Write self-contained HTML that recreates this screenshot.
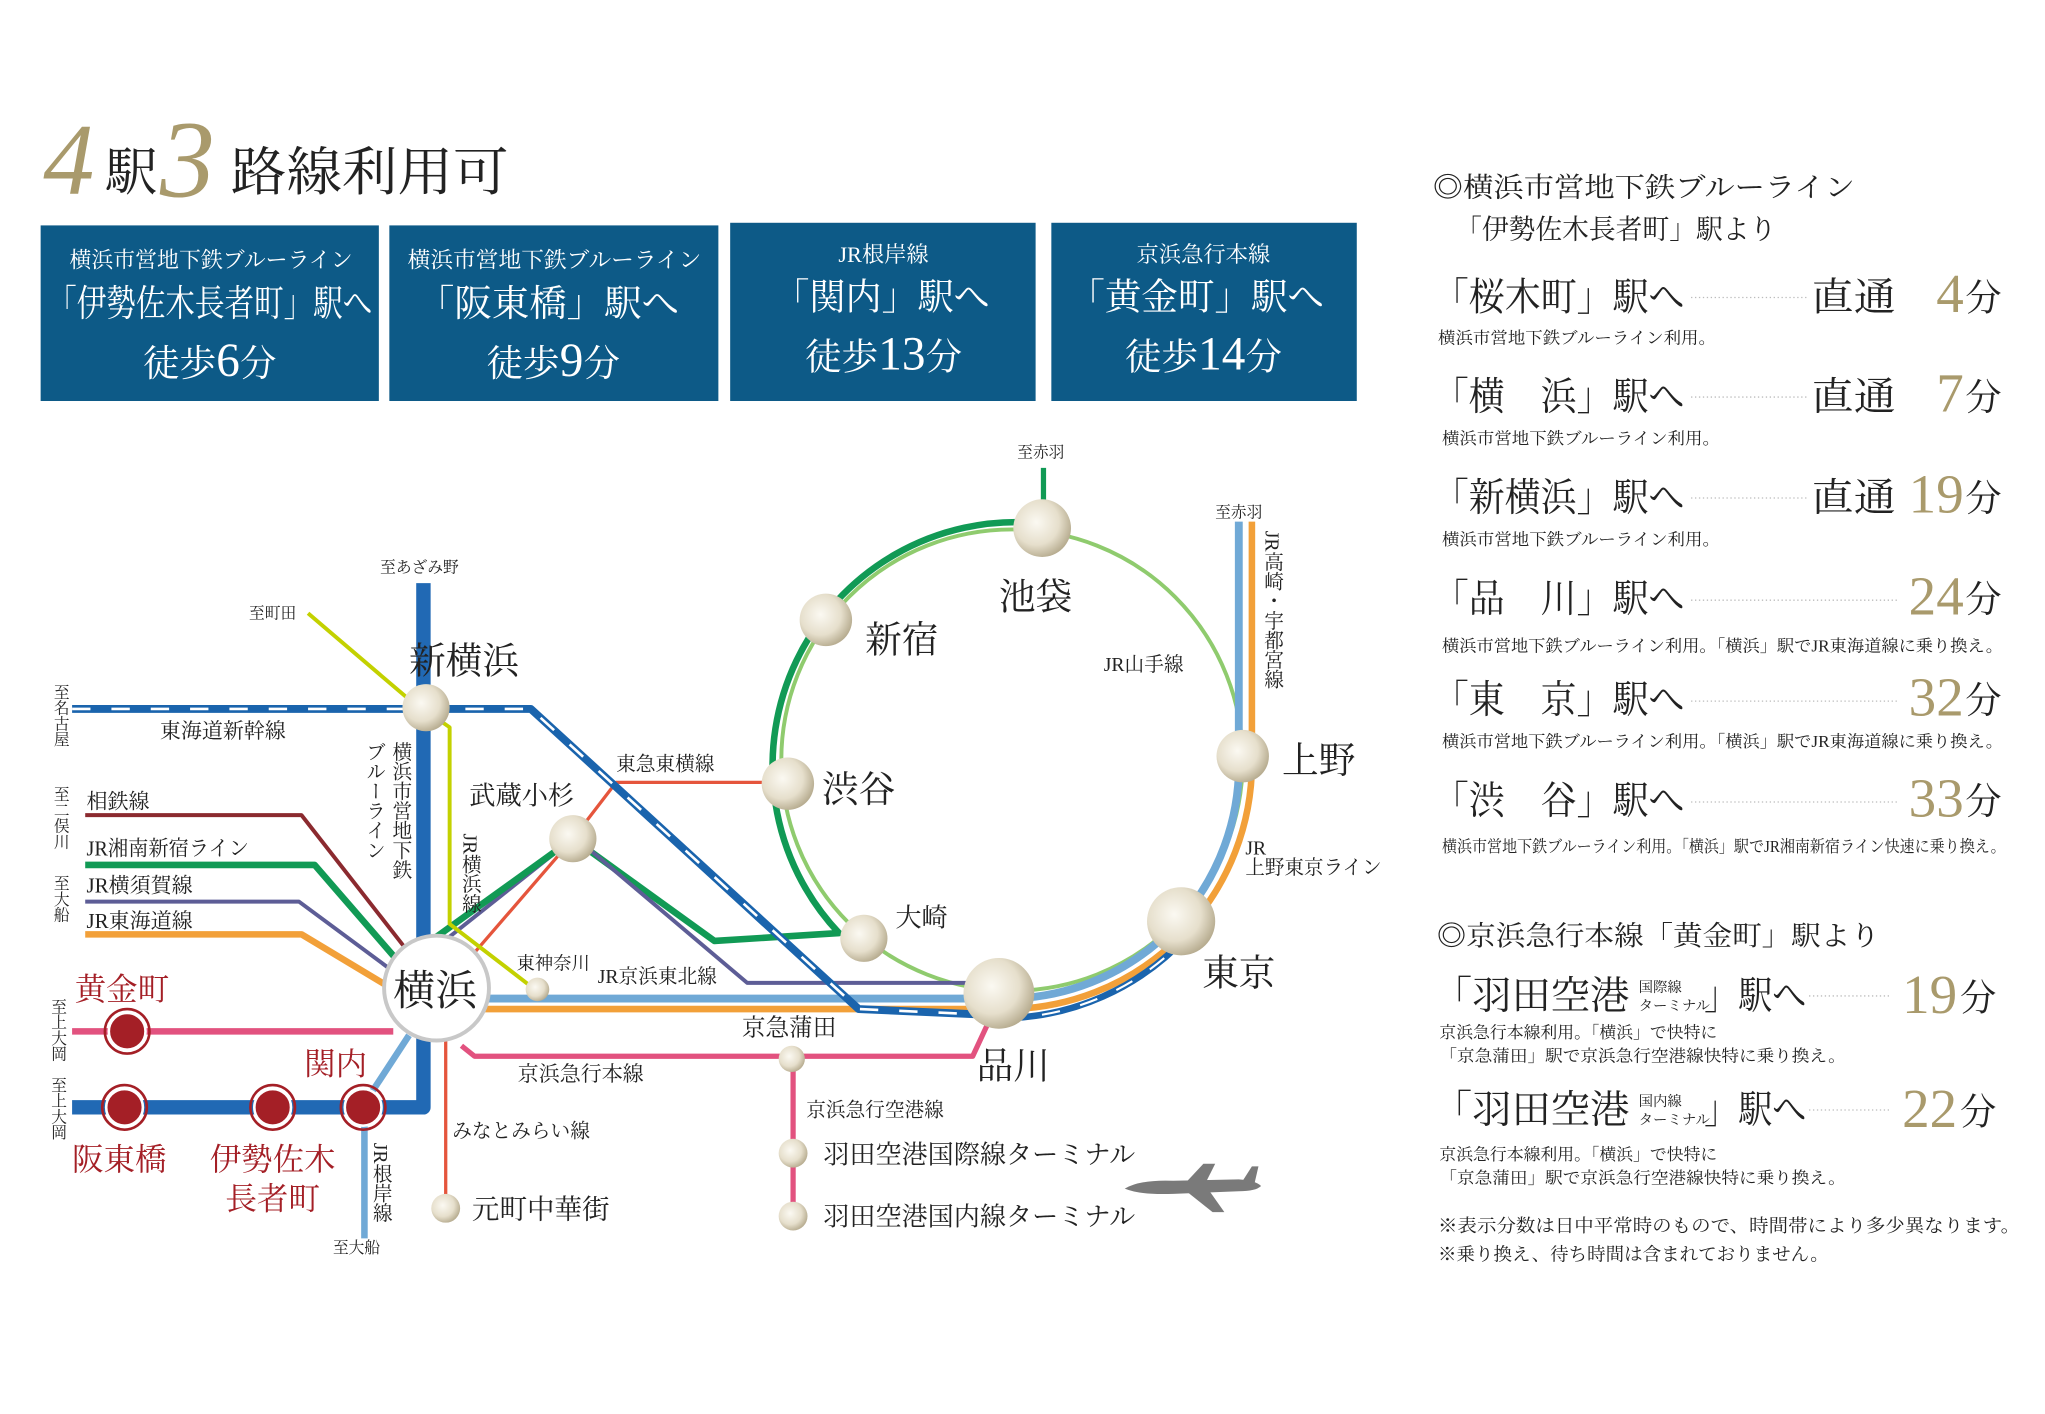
<!DOCTYPE html>
<html><head><meta charset="utf-8">
<style>
html,body{margin:0;padding:0;background:#fff;}
svg{display:block;}
text{font-family:"Liberation Serif","Noto Serif CJK JP","Noto Serif CJK SC",serif;}
</style></head>
<body>
<svg width="2045" height="1414" viewBox="0 0 1560 1079" preserveAspectRatio="none" xmlns="http://www.w3.org/2000/svg">
<defs>
<radialGradient id="sph" cx="0.4" cy="0.4" r="0.65">
<stop offset="0" stop-color="#fbf9f2"/><stop offset="0.6" stop-color="#e6dfcc"/><stop offset="1" stop-color="#b3a88b"/>
</radialGradient>
</defs>
<rect width="1560" height="1079" fill="#fff"/>

<!-- Title -->
<text x="33" y="148" font-size="78" font-style="italic" fill="#a99a6c">4</text>
<text x="80" y="145" font-size="40" fill="#222">駅</text>
<text x="122" y="150" font-size="84" font-style="italic" fill="#a99a6c">3</text>
<text x="176" y="145" font-size="40" fill="#222" textLength="212" lengthAdjust="spacingAndGlyphs">路線利用可</text>

<!-- Boxes -->
<g fill="#0d5a87">
<rect x="31" y="172" width="258" height="134"/>
<rect x="297" y="172" width="251" height="134"/>
<rect x="557" y="170" width="233" height="136"/>
<rect x="802" y="170" width="233" height="136"/>
</g>
<g fill="#fff">
<text x="53" y="204" font-size="17" textLength="216" lengthAdjust="spacingAndGlyphs">横浜市営地下鉄ブルーライン</text>
<text x="36" y="241" font-size="28" textLength="248" lengthAdjust="spacingAndGlyphs">「伊勢佐木長者町」駅へ</text>
<text x="311" y="204" font-size="17" textLength="224" lengthAdjust="spacingAndGlyphs">横浜市営地下鉄ブルーライン</text>
<text x="318" y="241" font-size="28" textLength="200" lengthAdjust="spacingAndGlyphs">「阪東橋」駅へ</text>
<text x="590" y="236" font-size="28" textLength="165" lengthAdjust="spacingAndGlyphs">「関内」駅へ</text>
<text x="815" y="236" font-size="28" textLength="195" lengthAdjust="spacingAndGlyphs">「黄金町」駅へ</text>
</g>
<g fill="#fff" text-anchor="middle">
<text x="160" y="287" font-size="28">徒歩<tspan font-size="36">6</tspan>分</text>
<text x="422" y="287" font-size="28">徒歩<tspan font-size="36">9</tspan>分</text>
<text x="674" y="200" font-size="17">JR根岸線</text>
<text x="674" y="282" font-size="28">徒歩<tspan font-size="36">13</tspan>分</text>
<text x="918" y="200" font-size="17">京浜急行本線</text>
<text x="918" y="282" font-size="28">徒歩<tspan font-size="36">14</tspan>分</text>
</g>

<!-- ===== MAP ===== -->
<g fill="none" stroke-linejoin="round">
<line x1="796" y1="357" x2="796" y2="390" stroke="#119a55" stroke-width="4"/>
<path d="M790,399 A186,186 0 0 0 640,712 L545,718 L437,640" stroke="#119a55" stroke-width="5"/>
<circle cx="772" cy="580" r="176" stroke="#8fcb6e" stroke-width="3"/>
<path d="M945,398 L945,578 A178,178 0 0 1 765,762 L360,762" stroke="#70a9d6" stroke-width="6"/>
<path d="M955,398 L955,580 A188,188 0 0 1 765,770 L360,770" stroke="#f2a039" stroke-width="5"/>
<path d="M65,688 L228,688 L305,745 M440,640 L570,750 L760,750" stroke="#5d5d96" stroke-width="3"/>
<path d="M305,745 L437,640" stroke="#5d5d96" stroke-width="3"/>
<path d="M65,622 L230,622 L308,722" stroke="#8b2a2f" stroke-width="3"/>
<path d="M65,660 L240,660 L305,735 L437,640" stroke="#119a55" stroke-width="5"/>
<path d="M65,713 L230,713 L300,755" stroke="#f2a039" stroke-width="5"/>
<path d="M355,735 L437,640 L470,597 L585,597" stroke="#e5553c" stroke-width="2.5"/>
<path d="M235,468 L310,532 L343,555 L343,705 L408,755" stroke="#c3d100" stroke-width="3"/>
<path d="M55,541 L405,541 L655,770 L745,774" stroke="#1a64ad" stroke-width="6"/>
<path d="M55,541 L405,541 L655,770 L745,774" stroke="#fff" stroke-width="2" stroke-dasharray="14 16"/>
<path d="M765,777 A194,194 0 0 0 905,715" stroke="#1a64ad" stroke-width="5"/>
<path d="M765,777 A194,194 0 0 0 905,715" stroke="#fff" stroke-width="1.6" stroke-dasharray="14 16"/>
<path d="M323,445 L323,845 L55,845" stroke="#2169b4" stroke-width="11"/>
<path d="M312,790 L278,842 L278,945" stroke="#70a9d6" stroke-width="5"/>
<line x1="340" y1="790" x2="340" y2="915" stroke="#e5553c" stroke-width="2.5"/>
<path d="M55,787 L300,787" stroke="#e2527f" stroke-width="5"/>
<path d="M352,798 L362,806 L742,806 L755,778" stroke="#e2527f" stroke-width="4"/>
<path d="M605,806 L605,930" stroke="#e2527f" stroke-width="4"/>
</g>

<g fill="url(#sph)">
<circle cx="795" cy="403" r="22"/>
<circle cx="630" cy="473" r="20"/>
<circle cx="601" cy="598" r="20"/>
<circle cx="948" cy="577" r="20"/>
<circle cx="901" cy="703" r="26"/>
<circle cx="762" cy="758" r="27"/>
<circle cx="659" cy="716" r="18"/>
<circle cx="325" cy="540" r="18"/>
<circle cx="437" cy="640" r="18"/>
<circle cx="410" cy="755" r="9"/>
<circle cx="604" cy="808" r="10"/>
<circle cx="605" cy="880" r="11"/>
<circle cx="605" cy="928" r="11"/>
<circle cx="340" cy="922" r="11"/>
</g>
<circle cx="333" cy="754" r="40" fill="#fff" stroke="#c8c8c8" stroke-width="3"/>
<g fill="#a41f26" stroke="#fff" stroke-width="2">
<circle cx="97" cy="787" r="14"/><circle cx="95" cy="845" r="14"/>
<circle cx="208" cy="845" r="14"/><circle cx="277" cy="845" r="14"/>
</g>
<g fill="none" stroke="#a41f26" stroke-width="2">
<circle cx="97" cy="787" r="17"/><circle cx="95" cy="845" r="17"/>
<circle cx="208" cy="845" r="17"/><circle cx="277" cy="845" r="17"/>
</g>

<!-- airplane -->
<g fill="#7a7a7a">
<path d="M858,907 Q870,900 895,901 L945,900 Q958,901 962,905 Q958,909 945,909 L895,911 Q870,912 858,907 Z"/>
<path d="M905,902 L918,888 L927,888 L920,902 Z"/>
<path d="M905,909 L925,925 L934,925 L922,908 Z"/>
<path d="M948,901 L955,890 L960,890 L957,903 Z"/>
</g>

<g fill="#222">
<text x="312" y="514" font-size="28">新横浜</text>
<text x="300" y="767" font-size="32">横浜</text>
<text x="762" y="465" font-size="28">池袋</text>
<text x="660" y="498" font-size="28">新宿</text>
<text x="627" y="612" font-size="28">渋谷</text>
<text x="978" y="590" font-size="28">上野</text>
<text x="917" y="752" font-size="28">東京</text>
<text x="745" y="823" font-size="28">品川</text>
<text x="683" y="707" font-size="20">大崎</text>
<text x="358" y="614" font-size="20">武蔵小杉</text>
<text x="566" y="790" font-size="18">京急蒲田</text>
<text x="628" y="888" font-size="20" textLength="238" lengthAdjust="spacingAndGlyphs">羽田空港国際線ターミナル</text>
<text x="628" y="935" font-size="20" textLength="238" lengthAdjust="spacingAndGlyphs">羽田空港国内線ターミナル</text>
<text x="360" y="930" font-size="21">元町中華街</text>
<text x="394" y="740" font-size="14">東神奈川</text>
<text x="456" y="750" font-size="15">JR京浜東北線</text>
<text x="470" y="588" font-size="15">東急東横線</text>
<text x="395" y="825" font-size="16">京浜急行本線</text>
<text x="615" y="852" font-size="15">京浜急行空港線</text>
<text x="345" y="868" font-size="15">みなとみらい線</text>
<text x="842" y="512" font-size="15">JR山手線</text>
<text x="122" y="563" font-size="16">東海道新幹線</text>
<text x="66" y="617" font-size="16">相鉄線</text>
<text x="66" y="653" font-size="16" textLength="124" lengthAdjust="spacingAndGlyphs">JR湘南新宿ライン</text>
<text x="66" y="681" font-size="16">JR横須賀線</text>
<text x="66" y="708" font-size="16">JR東海道線</text>
<text x="950" y="652" font-size="15">JR</text>
<text x="950" y="667" font-size="15" textLength="104" lengthAdjust="spacingAndGlyphs">上野東京ライン</text>
<text x="290" y="437" font-size="12">至あざみ野</text>
<text x="190" y="472" font-size="12">至町田</text>
<text x="776" y="349" font-size="12">至赤羽</text>
<text x="927" y="395" font-size="12">至赤羽</text>
<text x="254" y="956" font-size="12">至大船</text>
</g>
<g fill="#222" font-size="12">
<text x="46" y="522" writing-mode="tb">至名古屋</text>
<text x="46" y="600" writing-mode="tb">至二俣川</text>
<text x="46" y="668" writing-mode="tb">至大船</text>
<text x="44" y="762" writing-mode="tb">至上大岡</text>
<text x="44" y="822" writing-mode="tb">至上大岡</text>
</g>
<g fill="#222" font-size="15">
<text x="305" y="566" writing-mode="tb">横浜市営地下鉄</text>
<text x="285" y="566" writing-mode="tb">ブルーライン</text>
<text x="358" y="636" writing-mode="tb">JR横浜線</text>
<text x="970" y="405" writing-mode="tb">JR高崎・宇都宮線</text>
<text x="290" y="872" writing-mode="tb">JR根岸線</text>
</g>
<g fill="#a41f26">
<text x="57" y="763" font-size="24">黄金町</text>
<text x="232" y="820" font-size="24">関内</text>
<text x="55" y="893" font-size="24">阪東橋</text>
<text x="160" y="893" font-size="24">伊勢佐木</text>
<text x="172" y="923" font-size="24">長者町</text>
</g>

<!-- ===== RIGHT PANEL ===== -->
<g fill="#222">
<text x="1093" y="150" font-size="21" textLength="322" lengthAdjust="spacingAndGlyphs">◎横浜市営地下鉄ブルーライン</text>
<text x="1110" y="182" font-size="21" textLength="245" lengthAdjust="spacingAndGlyphs">「伊勢佐木長者町」駅より</text>
</g>
<g stroke="#bbb" stroke-width="1" stroke-dasharray="1 2">
<line x1="1290" y1="227" x2="1378" y2="227"/>
<line x1="1290" y1="303" x2="1378" y2="303"/>
<line x1="1290" y1="380" x2="1378" y2="380"/>
<line x1="1290" y1="458" x2="1448" y2="458"/>
<line x1="1290" y1="535" x2="1448" y2="535"/>
<line x1="1290" y1="612" x2="1448" y2="612"/>
<line x1="1380" y1="760" x2="1443" y2="760"/>
<line x1="1380" y1="847" x2="1443" y2="847"/>
</g>
<g fill="#222" font-size="30" lengthAdjust="spacingAndGlyphs">
<text x="1093" y="237" textLength="192" lengthAdjust="spacingAndGlyphs">「桜木町」駅へ</text>
<text x="1093" y="313" textLength="192" lengthAdjust="spacingAndGlyphs">「横　浜」駅へ</text>
<text x="1093" y="390" textLength="192" lengthAdjust="spacingAndGlyphs">「新横浜」駅へ</text>
<text x="1093" y="467" textLength="192" lengthAdjust="spacingAndGlyphs">「品　川」駅へ</text>
<text x="1093" y="544" textLength="192" lengthAdjust="spacingAndGlyphs">「東　京」駅へ</text>
<text x="1093" y="621" textLength="192" lengthAdjust="spacingAndGlyphs">「渋　谷」駅へ</text>
<text x="1382" y="237" textLength="64" lengthAdjust="spacingAndGlyphs">直通</text>
<text x="1382" y="313" textLength="64" lengthAdjust="spacingAndGlyphs">直通</text>
<text x="1382" y="390" textLength="64" lengthAdjust="spacingAndGlyphs">直通</text>
</g>
<g fill="#a99a6c" font-size="42" text-anchor="end">
<text x="1498" y="238">4</text><text x="1498" y="314">7</text><text x="1498" y="391">19</text>
<text x="1498" y="469">24</text><text x="1498" y="546">32</text><text x="1498" y="623">33</text>
<text x="1493" y="773">19</text><text x="1493" y="860">22</text>
</g>
<g fill="#222" font-size="28">
<text x="1499" y="237">分</text><text x="1499" y="313">分</text><text x="1499" y="390">分</text>
<text x="1499" y="467">分</text><text x="1499" y="544">分</text><text x="1499" y="621">分</text>
<text x="1495" y="771">分</text><text x="1495" y="858">分</text>
</g>
<g fill="#222" font-size="12.5">
<text x="1097" y="262" textLength="212" lengthAdjust="spacingAndGlyphs">横浜市営地下鉄ブルーライン利用。</text>
<text x="1100" y="339" textLength="212" lengthAdjust="spacingAndGlyphs">横浜市営地下鉄ブルーライン利用。</text>
<text x="1100" y="416" textLength="212" lengthAdjust="spacingAndGlyphs">横浜市営地下鉄ブルーライン利用。</text>
<text x="1100" y="497" textLength="428" lengthAdjust="spacingAndGlyphs">横浜市営地下鉄ブルーライン利用。「横浜」駅でJR東海道線に乗り換え。</text>
<text x="1100" y="570" textLength="428" lengthAdjust="spacingAndGlyphs">横浜市営地下鉄ブルーライン利用。「横浜」駅でJR東海道線に乗り換え。</text>
<text x="1100" y="650" textLength="430" lengthAdjust="spacingAndGlyphs">横浜市営地下鉄ブルーライン利用。「横浜」駅でJR湘南新宿ライン快速に乗り換え。</text>
<text x="1098" y="792" textLength="212" lengthAdjust="spacingAndGlyphs">京浜急行本線利用。「横浜」で快特に</text>
<text x="1098" y="810" textLength="310" lengthAdjust="spacingAndGlyphs">「京急蒲田」駅で京浜急行空港線快特に乗り換え。</text>
<text x="1098" y="885" textLength="212" lengthAdjust="spacingAndGlyphs">京浜急行本線利用。「横浜」で快特に</text>
<text x="1098" y="903" textLength="310" lengthAdjust="spacingAndGlyphs">「京急蒲田」駅で京浜急行空港線快特に乗り換え。</text>
</g>
<text x="1096" y="721" font-size="21" fill="#222" textLength="338" lengthAdjust="spacingAndGlyphs">◎京浜急行本線「黄金町」駅より</text>
<g fill="#222">
<text x="1093" y="770" font-size="30" textLength="150" lengthAdjust="spacingAndGlyphs">「羽田空港</text>
<text x="1250" y="757" font-size="11">国際線</text>
<text x="1250" y="771" font-size="11">ターミナル</text>
<text x="1300" y="770" font-size="30" textLength="78" lengthAdjust="spacingAndGlyphs">」駅へ</text>
<text x="1093" y="857" font-size="30" textLength="150" lengthAdjust="spacingAndGlyphs">「羽田空港</text>
<text x="1250" y="844" font-size="11">国内線</text>
<text x="1250" y="858" font-size="11">ターミナル</text>
<text x="1300" y="857" font-size="30" textLength="78" lengthAdjust="spacingAndGlyphs">」駅へ</text>
<text x="1097" y="940" font-size="14" textLength="444" lengthAdjust="spacingAndGlyphs">※表示分数は日中平常時のもので、時間帯により多少異なります。</text>
<text x="1097" y="962" font-size="14" textLength="298" lengthAdjust="spacingAndGlyphs">※乗り換え、待ち時間は含まれておりません。</text>
</g>
</svg>
</body></html>
